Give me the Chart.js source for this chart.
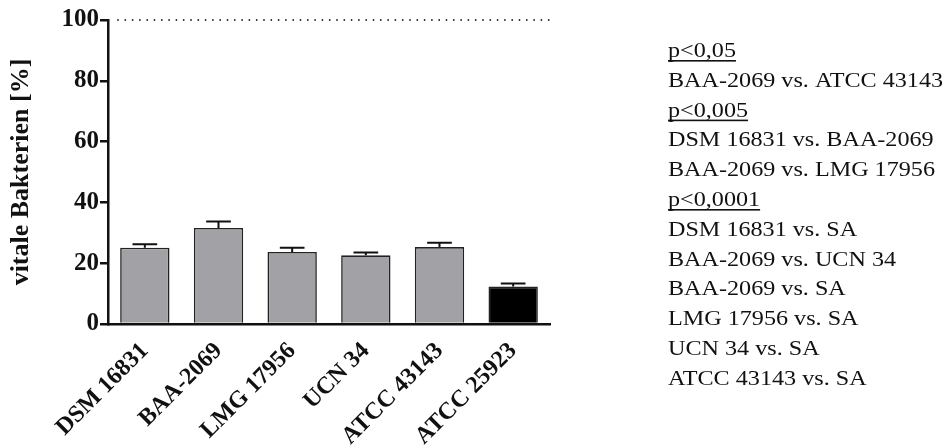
<!DOCTYPE html>
<html>
<head>
<meta charset="utf-8">
<script src="https://cdn.jsdelivr.net/npm/chart.js@4"></script>
<style>
html,body{margin:0;padding:0;background:#fff;}
#wrap{width:943px;height:448px;}
</style>
</head>
<body>
<div id="wrap"><canvas id="c" width="943" height="448"></canvas></div>
<script>
const categories = ['DSM 16831', 'BAA-2069', 'LMG 17956', 'UCN 34', 'ATCC 43143', 'ATCC 25923'];
const meanValues = [25.1, 31.6, 23.7, 22.6, 25.3, 12.3];
const errorValues = [1.1, 2.1, 1.4, 0.9, 1.4, 1.0];
const barColors = ['#a2a1a6', '#a2a1a6', '#a2a1a6', '#a2a1a6', '#a2a1a6', '#000000'];
const yTickValues = [0, 20, 40, 60, 80, 100];
const referenceLineValue = 100;
const yAxisTitle = 'vitale Bakterien [%]';
const statLines = [
  {text: 'p<0,05', header: true},
  {text: 'BAA-2069 vs. ATCC 43143', header: false},
  {text: 'p<0,005', header: true},
  {text: 'DSM 16831 vs. BAA-2069', header: false},
  {text: 'BAA-2069 vs. LMG 17956', header: false},
  {text: 'p<0,0001', header: true},
  {text: 'DSM 16831 vs. SA', header: false},
  {text: 'BAA-2069 vs. UCN 34', header: false},
  {text: 'BAA-2069 vs. SA', header: false},
  {text: 'LMG 17956 vs. SA', header: false},
  {text: 'UCN 34 vs. SA', header: false},
  {text: 'ATCC 43143 vs. SA', header: false}
];

const FONT = "'Liberation Serif', 'Times New Roman', serif";

const errorBarPlugin = {
  id: 'errorBars',
  afterDatasetsDraw(chart) {
    const ctx = chart.ctx;
    const meta = chart.getDatasetMeta(0);
    const y = chart.scales.y;
    ctx.save();
    ctx.strokeStyle = '#111';
    ctx.lineWidth = 2;
    meta.data.forEach((bar, i) => {
      const top = y.getPixelForValue(meanValues[i] + errorValues[i]);
      const base = y.getPixelForValue(meanValues[i]);
      const x = bar.x;
      const half = bar.width * 0.25;
      ctx.beginPath();
      ctx.moveTo(x, base);
      ctx.lineTo(x, top);
      ctx.moveTo(x - half, top);
      ctx.lineTo(x + half, top);
      ctx.stroke();
    });
    ctx.restore();
  }
};

const refLinePlugin = {
  id: 'refLine',
  afterDraw(chart) {
    const ctx = chart.ctx;
    const y = chart.scales.y.getPixelForValue(referenceLineValue);
    const area = chart.chartArea;
    ctx.save();
    ctx.fillStyle = '#222';
    for (let x = area.left + 10; x <= area.right; x += 7.3) {
      ctx.beginPath();
      ctx.arc(x, y, 0.9, 0, Math.PI * 2);
      ctx.fill();
    }
    ctx.restore();
  }
};

const statsPlugin = {
  id: 'stats',
  afterDraw(chart) {
    const ctx = chart.ctx;
    ctx.save();
    ctx.font = '21px ' + FONT;
    ctx.fillStyle = '#111';
    ctx.textBaseline = 'alphabetic';
    ctx.textAlign = 'left';
    const x0 = 668, b0 = 57, step = 29.8, sx = 1.15;
    statLines.forEach((ln, i) => {
      const by = b0 + i * step;
      ctx.save();
      ctx.translate(x0, by);
      ctx.scale(sx, 1);
      ctx.fillText(ln.text, 0, 0);
      if (ln.header) {
        const w = ctx.measureText(ln.text).width;
        ctx.fillRect(0, 3, w, 1.6);
      }
      ctx.restore();
    });
    ctx.restore();
  }
};

new Chart(document.getElementById('c'), {
  type: 'bar',
  data: {
    labels: categories,
    datasets: [{
      data: meanValues,
      backgroundColor: barColors,
      borderColor: '#222',
      borderWidth: 1.6,
      borderSkipped: 'bottom',
      barPercentage: 0.67,
      categoryPercentage: 1.0
    }]
  },
  options: {
    responsive: false,
    animation: false,
    devicePixelRatio: 1,
    layout: {padding: {left: 0, right: 393, top: 20, bottom: 0}},
    plugins: {legend: {display: false}, tooltip: {enabled: false}, title: {display: false}},
    scales: {
      x: {
        grid: {display: false},
        border: {display: true, color: '#111', width: 2.5},
        ticks: {
          color: '#111',
          font: {family: FONT, size: 24, weight: 'bold'},
          minRotation: 45, maxRotation: 45,
          padding: 5,
          autoSkip: false
        },
        afterFit(scale) { scale.height = 124; }
      },
      y: {
        min: 0, max: 100,
        afterBuildTicks(scale) { scale.ticks = yTickValues.map(v => ({value: v})); },
        grid: {display: true, drawOnChartArea: false, drawTicks: true, tickLength: 8, color: '#111', lineWidth: 2.5},
        border: {display: true, color: '#111', width: 2.5},
        ticks: {
          color: '#111',
          font: {family: FONT, size: 25, weight: 'bold'},
          padding: 1
        },
        title: {
          display: true,
          text: yAxisTitle,
          color: '#111',
          font: {family: FONT, size: 26, weight: 'bold'},
          padding: {top: 6, bottom: 0}
        },
        afterFit(scale) { scale.width = 108; }
      }
    }
  },
  plugins: [errorBarPlugin, refLinePlugin, statsPlugin]
});
</script>
</body>
</html>
